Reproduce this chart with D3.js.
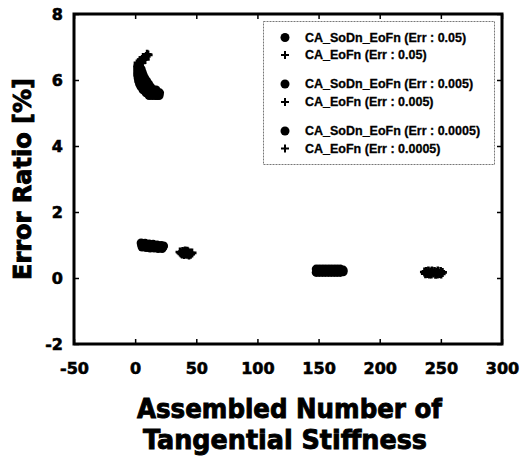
<!DOCTYPE html>
<html>
<head>
<meta charset="utf-8">
<script src="https://cdn.jsdelivr.net/npm/d3@7"></script>
<style>
    body { margin: 0; background: #fff; }
</style>
</head>
<body>
<svg id="chart" width="520" height="459"></svg>
<script>
// axis ticks
const xTicks = [-50, 0, 50, 100, 150, 200, 250, 300];
const yTicks = [-2, 0, 2, 4, 6, 8];

// legend labels
const legendLabels = [
    "CA_SoDn_EoFn (Err : 0.05)",
    "CA_EoFn (Err : 0.05)",
    "CA_SoDn_EoFn (Err : 0.005)",
    "CA_EoFn (Err : 0.005)",
    "CA_SoDn_EoFn (Err : 0.0005)",
    "CA_EoFn (Err : 0.0005)"
];

// series: [assembled number, error ratio %]
const soDn_005 = [
    [2.04, 6.42], [3.67, 6.42],
    [2.04, 6.33], [3.67, 6.33], [4.9, 6.33],
    [2.04, 6.24], [3.67, 6.24], [5.71, 6.24],
    [2.04, 6.15], [4.49, 6.15], [6.53, 6.15],
    [2.45, 6.06], [4.9, 6.06], [7.75, 6.06],
    [2.86, 5.97], [4.9, 5.97], [6.93, 5.97], [9.38, 5.97],
    [3.67, 5.88], [6.12, 5.88], [8.57, 5.88], [11.01, 5.88],
    [4.9, 5.79], [7.34, 5.79], [9.79, 5.79], [12.65, 5.79],
    [6.53, 5.70], [8.97, 5.70], [11.42, 5.70], [13.87, 5.70], [15.5, 5.70], [17.13, 5.70],
    [8.97, 5.61], [11.42, 5.61], [13.87, 5.61], [16.32, 5.61], [18.36, 5.61], [19.99, 5.61],
    [11.42, 5.53], [13.87, 5.53], [16.32, 5.53], [17.95, 5.53], [19.58, 5.53]
];
const eoFn_005 = [
    [2.45, 6.52], [4.08, 6.58], [5.71, 6.62], [7.34, 6.67], [8.97, 6.71], [10.6, 6.76],
    [3.3, 6.48], [6.5, 6.68], [9.8, 6.78], [4.9, 6.52], [8.2, 6.62]
];
const soDn_0005 = [
    [4.9, 1.06], [8.16, 1.05], [11.42, 1.03], [14.69, 1.02], [17.95, 1.0], [21.21, 0.985], [23.25, 0.97],
    [5.3, 1.0], [7.5, 0.99], [10.0, 0.98], [13.0, 0.97], [16.0, 0.96], [19.5, 0.95], [22.6, 0.94],
    [5.71, 0.94], [8.97, 0.925], [12.24, 0.91], [15.5, 0.91], [18.77, 0.895], [22.03, 0.895]
];
const eoFn_0005 = [
    [36.71, 0.79], [38.35, 0.73], [39.98, 0.775], [41.61, 0.745], [43.24, 0.79],
    [44.87, 0.76], [46.5, 0.76], [40.79, 0.82], [44.06, 0.70], [38.8, 0.80],
    [40.2, 0.71], [42.5, 0.72], [42.6, 0.81], [45.3, 0.72], [37.5, 0.76]
];
const soDn_00005 = [
    [148.1, 0.27], [150.5, 0.27], [153.0, 0.27], [155.4, 0.27], [157.9, 0.27],
    [160.3, 0.27], [162.8, 0.27], [165.2, 0.27], [167.7, 0.27], [170.1, 0.24],
    [148.1, 0.17], [150.5, 0.17], [153.0, 0.17], [155.4, 0.17], [157.9, 0.17],
    [160.3, 0.17], [162.8, 0.17], [165.2, 0.17], [167.7, 0.17], [170.1, 0.19],
    [149.3, 0.22], [151.7, 0.22], [154.2, 0.22], [156.6, 0.22], [159.1, 0.22],
    [161.5, 0.22], [164.0, 0.22], [166.4, 0.22], [168.9, 0.22]
];
const eoFn_00005 = [
    [236.6, 0.18], [239.0, 0.14], [241.5, 0.18], [243.9, 0.15], [246.4, 0.17],
    [248.8, 0.14], [251.3, 0.17], [239.8, 0.21], [245.6, 0.11], [238.0, 0.20],
    [240.5, 0.12], [242.7, 0.21], [244.8, 0.20], [247.5, 0.21], [249.8, 0.20],
    [242.2, 0.12], [247.2, 0.12], [250.2, 0.12], [237.4, 0.13]
];

const margin = {top: 14, right: 18, bottom: 115, left: 74};
const width = 520, height = 459;

const svg = d3.select("#chart");

let x = d3.scaleLinear()
    .domain([-50, 300])
    .range([margin.left, width - margin.right]);
let y = d3.scaleLinear()
    .domain([-2, 8])
    .range([height - margin.bottom, margin.top]);

const plusPath = "M-4.5,0H4.5M0,-4.5V4.5";

// heavy bold look of the original labels
function boldText(sel, size, stroke) {
    return sel.attr("font-family", "DejaVu Sans")
        .attr("font-weight", "bold")
        .attr("font-size", size)
        .attr("fill", "#000")
        .attr("stroke", "#000")
        .attr("stroke-width", stroke);
}

// ticks on all four sides, pointing inward
svg.append("g")
    .attr("transform", `translate(0,${y(-2)})`)
    .call(d3.axisBottom(x).tickValues(xTicks).tickSize(-5).tickPadding(19).tickFormat(d => String(d)))
    .call(g => g.select(".domain").remove())
    .call(g => g.selectAll("line").attr("stroke-width", 1.5))
    .call(g => boldText(g.selectAll("text"), 16, 0.6));

svg.append("g")
    .attr("transform", `translate(${x(-50)},0)`)
    .call(d3.axisLeft(y).tickValues(yTicks).tickSize(-5).tickPadding(11).tickFormat(d => String(d)))
    .call(g => g.select(".domain").remove())
    .call(g => g.selectAll("line").attr("stroke-width", 1.5))
    .call(g => boldText(g.selectAll("text"), 16, 0.6));

svg.append("g")
    .attr("transform", `translate(0,${y(8)})`)
    .call(d3.axisTop(x).tickValues(xTicks).tickSize(-5).tickFormat(""))
    .call(g => g.select(".domain").remove())
    .call(g => g.selectAll("line").attr("stroke-width", 1.5));

svg.append("g")
    .attr("transform", `translate(${x(300)},0)`)
    .call(d3.axisRight(y).tickValues(yTicks).tickSize(-5).tickFormat(""))
    .call(g => g.select(".domain").remove())
    .call(g => g.selectAll("line").attr("stroke-width", 1.5));

// plot frame
svg.append("rect")
    .attr("x", x(-50))
    .attr("y", y(8))
    .attr("width", x(300) - x(-50))
    .attr("height", y(-2) - y(8))
    .attr("fill", "none")
    .attr("stroke", "#000")
    .attr("stroke-width", 3);

// data marks
function drawCircles(data) {
    svg.append("g")
        .selectAll("circle")
        .data(data)
        .join("circle")
        .attr("cx", d => x(d[0]))
        .attr("cy", d => y(d[1]))
        .attr("r", 4.5)
        .attr("fill", "#000");
}

function drawPluses(data) {
    svg.append("g")
        .selectAll("path")
        .data(data)
        .join("path")
        .attr("transform", d => `translate(${x(d[0])},${y(d[1])})`)
        .attr("d", plusPath)
        .attr("stroke", "#000")
        .attr("stroke-width", 2.6)
        .attr("fill", "none");
}

drawCircles(soDn_005);
drawPluses(eoFn_005);
drawCircles(soDn_0005);
drawPluses(eoFn_0005);
drawCircles(soDn_00005);
drawPluses(eoFn_00005);

// legend
const legend = svg.append("g");
legend.append("rect")
    .attr("x", 263.5)
    .attr("y", 21.5)
    .attr("width", 231)
    .attr("height", 143)
    .attr("fill", "#fff")
    .attr("stroke", "#777")
    .attr("stroke-width", 1)
    .attr("stroke-dasharray", "2,1");

const rowY = [37.5, 55, 84, 102, 131, 148.5];
legendLabels.forEach((label, i) => {
    if (i % 2 === 0) {
        legend.append("circle")
            .attr("cx", 285)
            .attr("cy", rowY[i])
            .attr("r", 4.5)
            .attr("fill", "#000");
    } else {
        legend.append("path")
            .attr("transform", `translate(285,${rowY[i]})`)
            .attr("d", "M-4,0H4M0,-4V4")
            .attr("stroke", "#000")
            .attr("stroke-width", 2)
            .attr("fill", "none");
    }
    legend.append("text")
        .attr("x", 305)
        .attr("y", rowY[i])
        .attr("dy", "0.35em")
        .attr("font-family", "Liberation Sans")
        .attr("font-weight", "bold")
        .attr("font-size", 12.5)
        .attr("stroke", "#000")
        .attr("stroke-width", 0.3)
        .text(label);
});

// axis titles
boldText(svg.append("text"), 25, 0.9)
    .attr("transform", "translate(31,179) rotate(-90)")
    .attr("text-anchor", "middle")
    .attr("textLength", 202)
    .attr("lengthAdjust", "spacingAndGlyphs")
    .text("Error Ratio [%]");

boldText(svg.append("text"), 26, 0.9)
    .attr("x", 289.5)
    .attr("y", 418)
    .attr("text-anchor", "middle")
    .attr("textLength", 305)
    .attr("lengthAdjust", "spacingAndGlyphs")
    .text("Assembled Number of");

boldText(svg.append("text"), 26, 0.9)
    .attr("x", 285)
    .attr("y", 449)
    .attr("text-anchor", "middle")
    .attr("textLength", 284)
    .attr("lengthAdjust", "spacingAndGlyphs")
    .text("Tangential Stiffness");
</script>
</body>
</html>
